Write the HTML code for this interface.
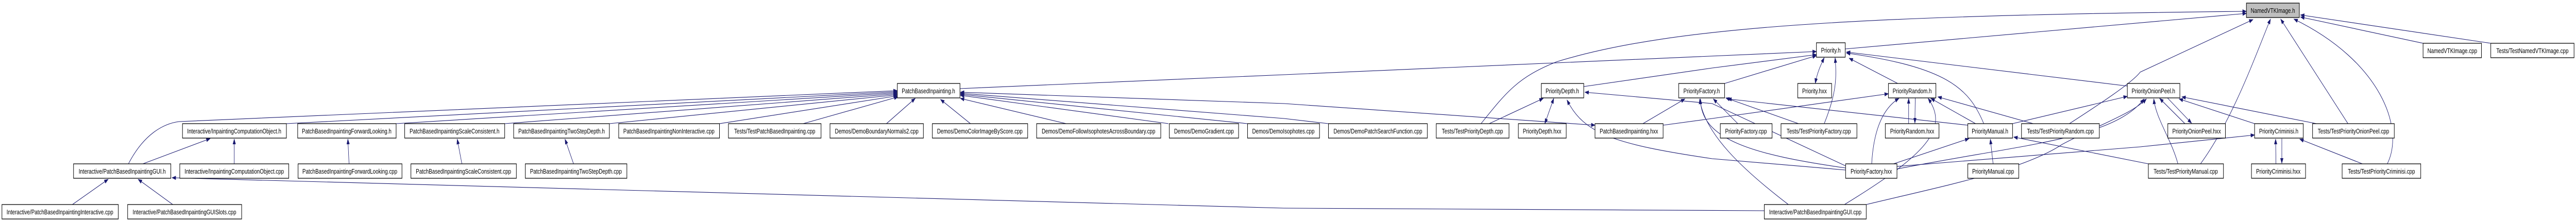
<!DOCTYPE html>
<html><head><meta charset="utf-8"><style>
html,body{margin:0;padding:0;background:#fff;width:100%;height:100%;overflow:hidden;}
svg{display:block;width:100vw;height:100vh;}
.n rect{fill:#fff;stroke:#000;stroke-width:1.3;}
.n text{font-family:"Liberation Sans",sans-serif;font-size:13px;fill:#000;text-anchor:middle;}
.e path{fill:none;stroke:#191970;stroke-width:1.1;marker-end:url(#a);}
.e path.b{marker-start:url(#as);}
</style></head><body>
<svg viewBox="0 0 6620 427" preserveAspectRatio="none" xmlns="http://www.w3.org/2000/svg">
<defs>
<marker id="a" markerUnits="userSpaceOnUse" markerWidth="11" markerHeight="8" refX="10" refY="4" orient="auto"><path d="M0,0 L11,4 L0,8 z" fill="#191970"/></marker>
<marker id="as" markerUnits="userSpaceOnUse" markerWidth="11" markerHeight="8" refX="10" refY="4" orient="auto-start-reverse"><path d="M0,0 L11,4 L0,8 z" fill="#191970"/></marker>
</defs>
<g class="e">
<path d="M330,318 C370,260 420,240 460,236 L2306,176"/>
<path d="M736,240 L2306,178"/>
<path d="M1018,240 L2306,180"/>
<path d="M1297,240 L2306,182"/>
<path d="M1566,240 L2306,184"/>
<path d="M1849,240 L2306,186"/>
<path d="M2064,240 L2308,188"/>
<path d="M2278,240 L2352,191"/>
<path d="M2494,240 L2417,193"/>
<path d="M2740,240 L2468,191"/>
<path d="M3003,240 L2468,185"/>
<path d="M3206,240 L2468,183"/>
<path d="M3414,240 L3300,230 L2468,181"/>
<path class="b" d="M4099,243 L3300,201 L2468,179"/>
<path d="M2467,172 L3300,145 L4668,100"/>
<path d="M4070,168 L4400,132 L4668,106"/>
<path d="M4432,162 L4668,108"/>
<path class="b" d="M4665,162 C4670,140 4680,125 4688,112"/>
<path d="M4688,240 C4720,180 4720,150 4716,112"/>
<path d="M4877,162 L4752,113"/>
<path d="M5098,240 C5060,170 5000,130 4745,103"/>
<path d="M5467,167 L4745,101"/>
<path d="M4742,95 L5773,26"/>
<path d="M3806,240 C3870,180 3900,150 4000,120 C4300,50 4800,30 5773,22"/>
<path d="M5318,240 C5400,200 5480,160 5500,140 L5790,38"/>
<path d="M5655,318 C5740,230 5800,100 5835,37"/>
<path d="M6034,240 L5861,37"/>
<path d="M6135,318 C6180,250 6120,120 5895,37"/>
<path d="M6227,84 L5912,33"/>
<path d="M6401,84 L5912,29"/>
<path d="M3827,240 L3966,191"/>
<path class="b" d="M3970,240 L3993,191"/>
<path d="M4743,322 L4400,201 L4073,179"/>
<path d="M4743,330 L4400,308 C4150,280 4070,260 4027,194"/>
<path d="M4222,240 L4330,192"/>
<path d="M4466,240 L4403,192"/>
<path d="M4622,240 L4435,190"/>
<path d="M4743,326 C4500,300 4370,270 4370,192"/>
<path d="M4596,397 C4480,330 4380,260 4368,192"/>
<path d="M5057,243 L4440,192"/>
<path d="M4274,243 L4400,230 L4853,182"/>
<path d="M4905,240 L4905,191"/>
<path d="M4922,190 L4921,239"/>
<path d="M4810,318 C4815,250 4840,210 4880,191"/>
<path d="M4740,397 C4950,300 5010,250 4955,191"/>
<path d="M5077,240 L4962,191"/>
<path d="M5225,240 L4980,188"/>
<path d="M4866,318 L5060,269"/>
<path d="M5122,318 L5115,270"/>
<path d="M5521,318 L5175,266"/>
<path d="M5172,240 L5467,187"/>
<path d="M4875,328 C5200,280 5430,270 5510,192"/>
<path d="M4796,397 C5000,360 5200,330 5300,280 C5400,240 5480,220 5516,192"/>
<path d="M5615,240 L5550,191"/>
<path d="M5570,190 L5632,239"/>
<path d="M5597,318 C5580,270 5540,230 5535,192"/>
<path d="M5794,240 L5600,192"/>
<path d="M5953,240 L5607,188"/>
<path d="M4875,323 L5500,285 L5794,262"/>
<path d="M5849,318 L5848,270"/>
<path d="M5864,269 L5864,317"/>
<path d="M6071,318 L5910,270"/>
<path d="M186,397 L278,348"/>
<path d="M444,397 L355,348"/>
<path d="M4534,409 L3300,404 L442,345"/>
<path d="M367,318 L540,269"/>
<path d="M602,318 L602,270"/>
<path d="M897,318 L894,270"/>
<path d="M1187,318 L1175,270"/>
<path d="M1474,318 L1452,270"/>
</g>
<g class="n">
<rect x="5773" y="6" width="136" height="28" style="fill:#bfbfbf"/><text x="5841" y="25">NamedVTKImage.h</text>
<rect x="6227" y="84" width="150" height="28"/><text x="6302" y="103">NamedVTKImage.cpp</text>
<rect x="6401" y="84" width="214" height="28"/><text x="6508" y="103">Tests/TestNamedVTKImage.cpp</text>
<rect x="4668" y="83" width="74" height="28"/><text x="4705" y="102">Priority.h</text>
<rect x="2306" y="162" width="161" height="28"/><text x="2386" y="181">PatchBasedInpainting.h</text>
<rect x="3961" y="162" width="109" height="28"/><text x="4015" y="181">PriorityDepth.h</text>
<rect x="4314" y="162" width="118" height="28"/><text x="4373" y="181">PriorityFactory.h</text>
<rect x="4620" y="162" width="87" height="28"/><text x="4663" y="181">Priority.hxx</text>
<rect x="4853" y="162" width="122" height="28"/><text x="4914" y="181">PriorityRandom.h</text>
<rect x="5467" y="162" width="135" height="28"/><text x="5534" y="181">PriorityOnionPeel.h</text>

<rect x="469" y="240" width="267" height="28"/><text x="602" y="259">Interactive/InpaintingComputationObject.h</text>
<rect x="765" y="240" width="253" height="28"/><text x="891" y="259">PatchBasedInpaintingForwardLooking.h</text>
<rect x="1040" y="240" width="257" height="28"/><text x="1168" y="259">PatchBasedInpaintingScaleConsistent.h</text>
<rect x="1320" y="240" width="246" height="28"/><text x="1443" y="259">PatchBasedInpaintingTwoStepDepth.h</text>
<rect x="1590" y="240" width="259" height="28"/><text x="1719" y="259">PatchBasedInpaintingNonInteractive.cpp</text>
<rect x="1872" y="240" width="238" height="28"/><text x="1991" y="259">Tests/TestPatchBasedInpainting.cpp</text>
<rect x="2133" y="240" width="240" height="28"/><text x="2253" y="259">Demos/DemoBoundaryNormals2.cpp</text>
<rect x="2396" y="240" width="245" height="28"/><text x="2518" y="259">Demos/DemoColorImageByScore.cpp</text>
<rect x="2664" y="240" width="319" height="28"/><text x="2823" y="259">Demos/DemoFollowIsophotesAcrossBoundary.cpp</text>
<rect x="3005" y="240" width="178" height="28"/><text x="3094" y="259">Demos/DemoGradient.cpp</text>
<rect x="3206" y="240" width="185" height="28"/><text x="3298" y="259">Demos/DemoIsophotes.cpp</text>
<rect x="3414" y="240" width="254" height="28"/><text x="3541" y="259">Demos/DemoPatchSearchFunction.cpp</text>
<rect x="3691" y="240" width="187" height="28"/><text x="3784" y="259">Tests/TestPriorityDepth.cpp</text>
<rect x="3902" y="240" width="123" height="28"/><text x="3963" y="259">PriorityDepth.hxx</text>
<rect x="4099" y="240" width="175" height="28"/><text x="4186" y="259">PatchBasedInpainting.hxx</text>
<rect x="4421" y="240" width="133" height="28"/><text x="4487" y="259">PriorityFactory.cpp</text>
<rect x="4577" y="240" width="195" height="28"/><text x="4674" y="259">Tests/TestPriorityFactory.cpp</text>
<rect x="4845" y="240" width="138" height="28"/><text x="4914" y="259">PriorityRandom.hxx</text>
<rect x="5057" y="240" width="115" height="28"/><text x="5114" y="259">PriorityManual.h</text>
<rect x="5195" y="240" width="200" height="28"/><text x="5295" y="259">Tests/TestPriorityRandom.cpp</text>
<rect x="5571" y="240" width="148" height="28"/><text x="5645" y="259">PriorityOnionPeel.hxx</text>
<rect x="5794" y="240" width="125" height="28"/><text x="5856" y="259">PriorityCriminisi.h</text>
<rect x="5943" y="240" width="210" height="28"/><text x="6048" y="259">Tests/TestPriorityOnionPeel.cpp</text>

<rect x="189" y="318" width="250" height="28"/><text x="314" y="337">Interactive/PatchBasedInpaintingGUI.h</text>
<rect x="462" y="318" width="280" height="28"/><text x="602" y="337">Interactive/InpaintingComputationObject.cpp</text>
<rect x="766" y="318" width="267" height="28"/><text x="899" y="337">PatchBasedInpaintingForwardLooking.cpp</text>
<rect x="1056" y="318" width="271" height="28"/><text x="1191" y="337">PatchBasedInpaintingScaleConsistent.cpp</text>
<rect x="1350" y="318" width="261" height="28"/><text x="1480" y="337">PatchBasedInpaintingTwoStepDepth.cpp</text>
<rect x="4743" y="318" width="132" height="28"/><text x="4809" y="337">PriorityFactory.hxx</text>
<rect x="5057" y="318" width="131" height="28"/><text x="5122" y="337">PriorityManual.cpp</text>
<rect x="5521" y="318" width="193" height="28"/><text x="5617" y="337">Tests/TestPriorityManual.cpp</text>
<rect x="5786" y="318" width="139" height="28"/><text x="5855" y="337">PriorityCriminisi.hxx</text>
<rect x="6019" y="318" width="202" height="28"/><text x="6120" y="337">Tests/TestPriorityCriminisi.cpp</text>

<rect x="5" y="397" width="299" height="28"/><text x="154" y="416">Interactive/PatchBasedInpaintingInteractive.cpp</text>
<rect x="328" y="397" width="293" height="28"/><text x="474" y="416">Interactive/PatchBasedInpaintingGUISlots.cpp</text>
<rect x="4534" y="397" width="262" height="28"/><text x="4665" y="416">Interactive/PatchBasedInpaintingGUI.cpp</text>
</g>
</svg>
</body></html>
